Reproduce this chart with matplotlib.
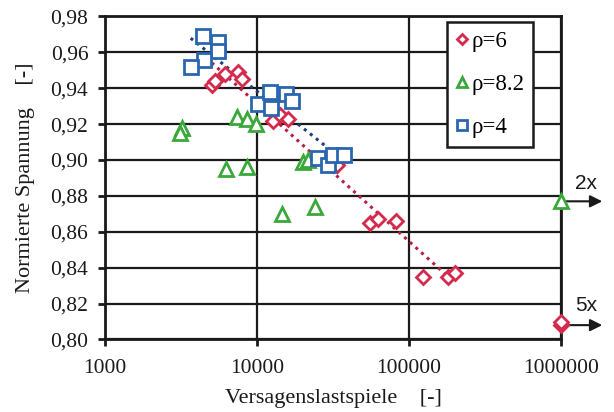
import numpy as np
import matplotlib
matplotlib.use("Agg")
import matplotlib.pyplot as plt
from matplotlib.ticker import FixedLocator, FuncFormatter, NullLocator

# rho = 6 (red diamonds)
rho6_x = [5035, 5290, 6150, 7530, 7930, 12740, 14160, 16000, 31600, 33600,
          55300, 62500, 82000, 123600, 180700, 201000, 1000000, 1000000]
rho6_y = [0.942, 0.944, 0.948, 0.949, 0.945, 0.922, 0.925, 0.923, 0.897, 0.897,
          0.865, 0.867, 0.866, 0.835, 0.835, 0.837, 0.808, 0.810]

# rho = 8.2 (green triangles)
rho82_x = [3200, 3110, 7350, 8550, 9900, 6250, 8550, 20200, 21500, 14500,
           24000, 1000000]
rho82_y = [0.918, 0.915, 0.924, 0.923, 0.920, 0.895, 0.896, 0.899, 0.900, 0.870,
           0.874, 0.877]

# rho = 4 (blue squares)
rho4_x = [4435, 5560, 5560, 4480, 3660, 10070, 12230, 12270, 15400, 16900,
          25300, 29400, 31750, 37200]
rho4_y = [0.969, 0.966, 0.961, 0.956, 0.952, 0.931, 0.938, 0.929, 0.937, 0.933,
          0.901, 0.897, 0.903, 0.903]

y_ticks = [0.80, 0.82, 0.84, 0.86, 0.88, 0.90, 0.92, 0.94, 0.96, 0.98]
x_ticks = [1000, 10000, 100000, 1000000]

red = "#d42a4e"
green = "#3aa83a"
blue = "#2a66b0"
ink = "#1a1a1a"

plt.rcParams["font.family"] = ["Liberation Serif", "DejaVu Serif"]

fig = plt.figure(figsize=(6.14, 4.12), dpi=100)
ax = fig.add_axes([0.171, 0.176, 0.743, 0.784])

ax.set_xscale("log")
ax.set_xlim(1000, 1000000)
ax.set_ylim(0.80, 0.98)


def trend(xs, ys, color):
    # log trendline over the failed specimens (runouts at 1e6 left out)
    xs = np.array(xs, dtype=float)
    ys = np.array(ys, dtype=float)
    keep = xs < 1000000
    k, d = np.polyfit(np.log10(xs[keep]), ys[keep], 1)
    xl = np.array([xs[keep].min(), xs[keep].max()])
    ax.plot(xl, k * np.log10(xl) + d, linestyle=(0, (1, 1.5)), color=color,
            lw=2.2, zorder=3)


trend(rho6_x, rho6_y, "#b82040")
trend(rho4_x, rho4_y, "#1f3f7a")

common = dict(linestyle="none", mfc="white", mew=2, clip_on=False, zorder=4)
ax.plot(rho6_x, rho6_y, "D", mec=red, ms=7.5, label="ρ=6", **common)
ax.plot(rho82_x, rho82_y, "^", mec=green, ms=9.5, label="ρ=8.2", **common)
ax.plot(rho4_x, rho4_y, "s", mec=blue, ms=10, label="ρ=4", **common)

# grid and frame
ax.yaxis.set_major_locator(FixedLocator(y_ticks))
ax.xaxis.set_major_locator(FixedLocator(x_ticks))
ax.xaxis.set_minor_locator(NullLocator())
ax.yaxis.set_major_formatter(FuncFormatter(lambda v, p: f"{v:.2f}".replace(".", ",")))
ax.xaxis.set_major_formatter(FuncFormatter(lambda v, p: f"{int(round(v))}"))
ax.grid(True, color=ink, lw=1.6)
ax.set_axisbelow(True)
for s in ax.spines.values():
    s.set_linewidth(2)
    s.set_color(ink)
ax.tick_params(axis="both", labelsize=15.5, width=2, length=5, color=ink,
               labelcolor=ink)
ax.tick_params(axis="x", pad=9)
ax.tick_params(axis="y", pad=7)

ax.set_xlabel("Versagenslastspiele    [-]", fontsize=16, color=ink, labelpad=8)
ax.set_ylabel("Normierte Spannung    [-]", fontsize=16, color=ink, labelpad=11)

# runout arrows
for yv, ty, txt in [(0.877, 0.887, "2x"), (0.808, 0.819, "5x")]:
    ax.annotate("", xy=(1.09, yv), xycoords=("axes fraction", "data"),
                xytext=(1.0, yv), textcoords=("axes fraction", "data"),
                arrowprops=dict(arrowstyle="-|>", color=ink, lw=1.5,
                                mutation_scale=18, shrinkA=0, shrinkB=0),
                annotation_clip=False)
    ax.text(1.055, ty, txt, transform=ax.get_yaxis_transform(), ha="center",
            va="center", fontsize=15, family=["Liberation Sans", "DejaVu Sans"],
            color=ink)

leg = ax.legend(loc="upper left", bbox_to_anchor=(0.75, 0.983),
                prop={"family": ["Liberation Serif"], "size": 16.5},
                frameon=True, fancybox=False, framealpha=1, edgecolor=ink,
                borderaxespad=0, labelspacing=0.95, handlelength=0.5,
                handletextpad=0.15, borderpad=0.4, markerscale=0.7)
leg.get_frame().set_linewidth(1.8)
leg.set_zorder(10)

fig.savefig("out.png", dpi=100)
